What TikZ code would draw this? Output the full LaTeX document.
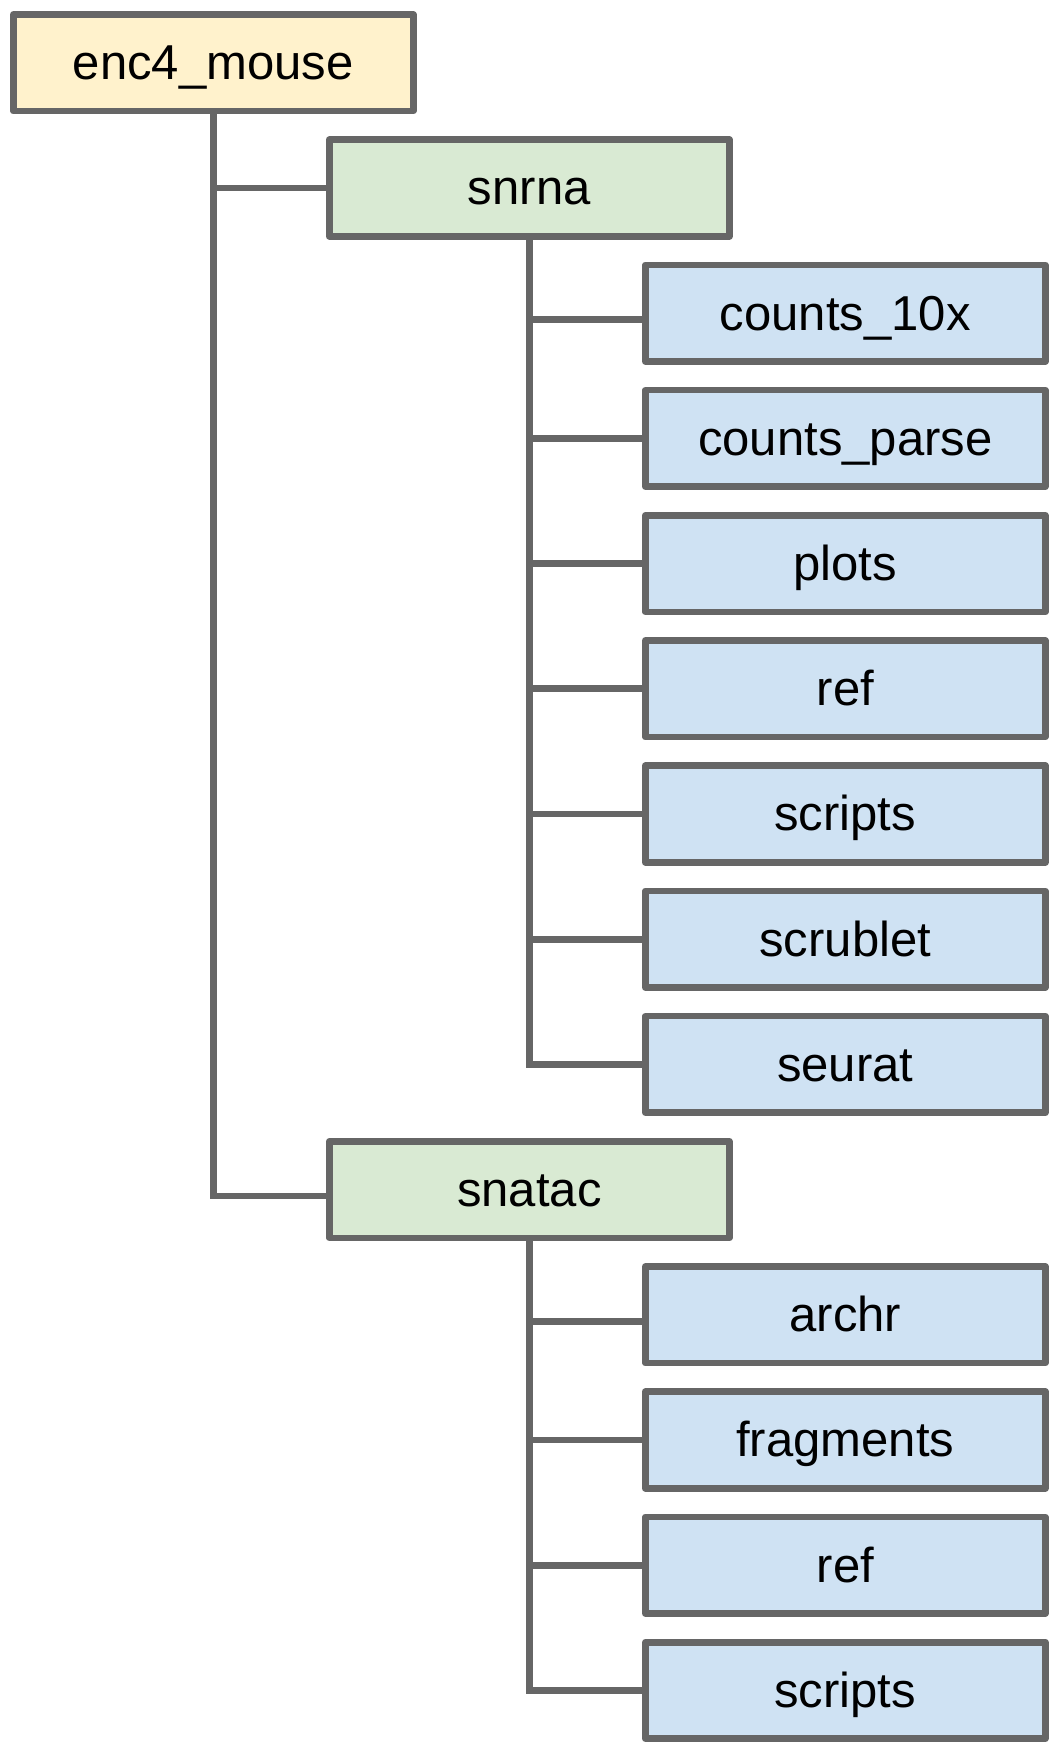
\documentclass[tikz,border=0pt]{standalone}
\usepackage{fontspec}
\setmainfont{Liberation Sans}
\definecolor{linegray}{HTML}{666666}
\definecolor{rootfill}{HTML}{FFF2CC}
\definecolor{subfill}{HTML}{D9EAD3}
\definecolor{leaffill}{HTML}{CFE2F3}

\begin{document}
\begin{tikzpicture}[font=\fontsize{27.9}{33}\selectfont,
 box/.style={draw=linegray,line width=3.8pt,line join=round,inner sep=0pt,
  minimum width=8cm,minimum height=1.93cm,text height=25.2pt,text depth=5.9pt},
 rootbox/.style={box,fill=rootfill},
 subbox/.style={box,fill=subfill},
 leaf/.style={box,fill=leaffill},
 link/.style={draw=linegray,line width=3.8pt,line cap=rect}]
\useasboundingbox (-4.266,1.256) rectangle (16.934,-33.824);
\node[rootbox] (mouse) at (0,0) {enc4\_mouse};
\node[subbox] (snrna) at (6.32,-2.504) {snrna};
\node[leaf] (counts10x) at (12.64,-5.008) {counts\_10x};
\node[leaf] (countsparse) at (12.64,-7.512) {counts\_parse};
\node[leaf] (plots) at (12.64,-10.016) {plots};
\node[leaf] (rnaref) at (12.64,-12.52) {ref};
\node[leaf] (rnascripts) at (12.64,-15.024) {scripts};
\node[leaf] (scrublet) at (12.64,-17.528) {scrublet};
\node[leaf] (seurat) at (12.64,-20.032) {seurat};
\node[subbox] (snatac) at (6.32,-22.536) {snatac};
\node[leaf] (archr) at (12.64,-25.04) {archr};
\node[leaf] (fragments) at (12.64,-27.544) {fragments};
\node[leaf] (atacref) at (12.64,-30.048) {ref};
\node[leaf] (atacscripts) at (12.64,-32.552) {scripts};
% entry points sitting a little below the box middle
\coordinate (snatac-in) at ([yshift=-1.3mm]snatac.west);
\coordinate (counts10x-in) at ([yshift=-1.3mm]counts10x.west);
\coordinate (archr-in) at ([yshift=-1.3mm]archr.west);
% top level
\draw[link] (mouse.south) |- (snatac-in);
\draw[link] (mouse.south |- snrna.west) -- (snrna.west);
% snrna folder
\draw[link] (snrna.south) |- (seurat.west);
\draw[link] (snrna.south |- counts10x-in) -- (counts10x-in);
\draw[link] (snrna.south |- countsparse.west) -- (countsparse.west);
\draw[link] (snrna.south |- plots.west) -- (plots.west);
\draw[link] (snrna.south |- rnaref.west) -- (rnaref.west);
\draw[link] (snrna.south |- rnascripts.west) -- (rnascripts.west);
\draw[link] (snrna.south |- scrublet.west) -- (scrublet.west);
% snatac folder
\draw[link] (snatac.south) |- (atacscripts.west);
\draw[link] (snatac.south |- archr-in) -- (archr-in);
\draw[link] (snatac.south |- fragments.west) -- (fragments.west);
\draw[link] (snatac.south |- atacref.west) -- (atacref.west);
\end{tikzpicture}
\end{document}
